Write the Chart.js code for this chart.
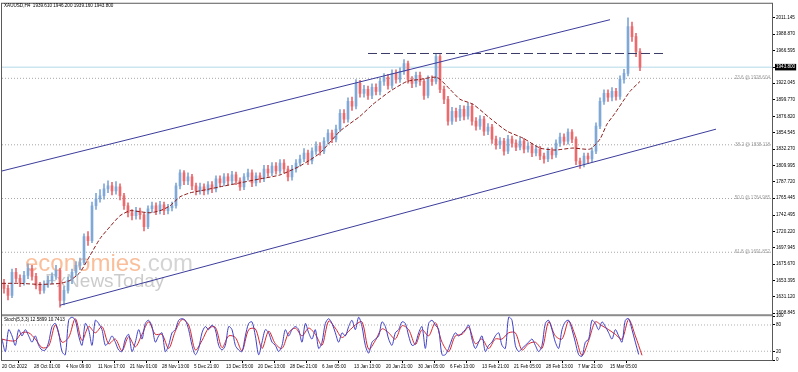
<!DOCTYPE html>
<html>
<head>
<meta charset="utf-8">
<script src="https://cdn.jsdelivr.net/npm/chart.js@4.4.0/dist/chart.umd.min.js"></script>
<style>
  html, body { margin: 0; padding: 0; background: #fff; }
  #wrap { width: 798px; height: 372px; }
</style>
</head>
<body>
<div id="wrap"><canvas id="chart" width="798" height="372"></canvas></div>
<script>
// XAUUSD H4 met kanaal, MA en Stochastic
const symbolTitle = "XAUUSD,H4  1939.610 1946.200 1939.160 1943.800";
const stochTitle = "Stoch(5,3,3) 12.5899 10.7413";

// candles: één candle per 4 H4-bars op de tijdas
const candleStep = 4;
const firstOpen = 1650.0;
const closes = [
  1642.7, 1633.2, 1664.4, 1656.2, 1650.8, 1660.3, 1669.8, 1659.0, 1646.8, 1640.0,
  1648.1, 1653.5, 1659.0, 1667.1, 1626.4, 1640.0, 1653.5, 1664.4, 1673.9, 1677.9,
  1713.1, 1707.7, 1755.1, 1764.6, 1768.7, 1778.2, 1782.2, 1775.4, 1780.9, 1768.7,
  1755.1, 1745.6, 1741.6, 1748.4, 1742.9, 1726.7, 1751.1, 1755.1, 1748.4, 1756.5,
  1748.4, 1752.4, 1755.1, 1782.2, 1799.8, 1789.0, 1794.4, 1782.2, 1775.4, 1780.9,
  1775.4, 1783.6, 1778.2, 1791.7, 1786.3, 1794.4, 1789.0, 1797.1, 1789.0, 1780.9,
  1794.4, 1799.8, 1786.3, 1795.8, 1791.7, 1805.2, 1799.8, 1809.3, 1802.5, 1813.4,
  1805.2, 1794.4, 1805.2, 1813.4, 1818.8, 1826.9, 1816.1, 1829.6, 1836.4, 1829.6,
  1843.2, 1854.0, 1845.9, 1859.4, 1881.1, 1873.0, 1897.3, 1890.6, 1921.7, 1908.2,
  1913.6, 1905.5, 1916.3, 1910.9, 1924.4, 1929.9, 1919.0, 1935.3, 1927.1, 1938.0,
  1948.8, 1927.1, 1921.7, 1932.6, 1924.4, 1905.5, 1927.1, 1924.4, 1958.3, 1913.6,
  1900.1, 1870.3, 1883.8, 1875.7, 1886.5, 1877.0, 1890.6, 1870.3, 1863.5, 1873.0,
  1856.7, 1862.1, 1845.9, 1837.8, 1843.2, 1829.6, 1845.9, 1840.5, 1835.0, 1843.2,
  1832.3, 1836.4, 1826.9, 1832.3, 1822.9, 1818.8, 1829.6, 1824.2, 1840.5, 1848.6,
  1843.2, 1855.4, 1845.9, 1816.1, 1812.0, 1822.9, 1818.8, 1829.6, 1863.5, 1897.3,
  1908.2, 1902.8, 1910.9, 1904.1, 1927.1, 1935.3, 1998.9, 1985.4, 1965.1, 1943.8
];
const highs = [
  1655, 1647, 1669, 1670, 1661, 1666, 1676, 1674, 1663, 1651,
  1653, 1659, 1664, 1674, 1670, 1645, 1658, 1669, 1679, 1684,
  1717, 1720, 1760, 1772, 1777, 1785, 1789, 1787, 1788, 1785,
  1772, 1759, 1750, 1753, 1752, 1746, 1755, 1760, 1759, 1761,
  1760, 1757, 1760, 1786, 1804, 1803, 1800, 1798, 1786, 1786,
  1785, 1788, 1788, 1796, 1796, 1799, 1799, 1802, 1801, 1793,
  1799, 1805, 1804, 1800, 1800, 1810, 1810, 1814, 1814, 1818,
  1818, 1809, 1810, 1818, 1824, 1833, 1831, 1834, 1842, 1841,
  1848, 1859, 1858, 1865, 1886, 1886, 1902, 1903, 1927, 1926,
  1919, 1918, 1921, 1921, 1929, 1935, 1934, 1940, 1940, 1943,
  1954, 1952, 1931, 1937, 1937, 1928, 1932, 1932, 1962, 1961,
  1918, 1904, 1889, 1888, 1892, 1891, 1895, 1894, 1875, 1878,
  1877, 1867, 1866, 1850, 1848, 1847, 1851, 1850, 1845, 1848,
  1847, 1841, 1840, 1837, 1836, 1827, 1834, 1834, 1845, 1854,
  1853, 1860, 1859, 1849, 1820, 1827, 1827, 1834, 1868, 1902,
  1913, 1913, 1916, 1915, 1932, 1941, 2011, 2005, 1990, 1969
];
const lows = [
  1636, 1627, 1630, 1651, 1645, 1647, 1656, 1654, 1642, 1635,
  1636, 1644, 1649, 1655, 1617, 1620, 1636, 1649, 1660, 1668,
  1675, 1701, 1705, 1750, 1760, 1764, 1773, 1770, 1771, 1763,
  1750, 1740, 1736, 1737, 1737, 1721, 1724, 1746, 1743, 1744,
  1743, 1744, 1748, 1752, 1778, 1784, 1784, 1777, 1770, 1771,
  1770, 1771, 1773, 1774, 1781, 1782, 1784, 1785, 1784, 1776,
  1777, 1790, 1781, 1782, 1787, 1788, 1795, 1796, 1798, 1799,
  1800, 1789, 1790, 1801, 1809, 1815, 1811, 1812, 1825, 1824,
  1826, 1839, 1841, 1842, 1856, 1868, 1869, 1885, 1887, 1903,
  1903, 1900, 1901, 1906, 1906, 1919, 1914, 1915, 1922, 1923,
  1934, 1922, 1916, 1917, 1919, 1900, 1902, 1919, 1921, 1909,
  1894, 1865, 1866, 1870, 1871, 1872, 1873, 1865, 1858, 1859,
  1851, 1852, 1840, 1832, 1833, 1824, 1826, 1835, 1830, 1831,
  1827, 1828, 1822, 1823, 1818, 1813, 1815, 1819, 1821, 1836,
  1838, 1839, 1841, 1811, 1806, 1808, 1813, 1815, 1826, 1860,
  1893, 1897, 1898, 1899, 1900, 1922, 1932, 1979, 1958, 1939
];

const maBars = [0, 18, 38, 58, 68, 78, 88, 98, 108, 118, 128, 138, 148, 158, 168, 178, 188, 198, 218, 238,
  258, 278, 298, 318, 338, 358, 371, 388, 405, 418, 435, 448, 458, 471, 488, 505, 521, 538, 553, 571,
  588, 598, 605, 613, 621, 628, 638];
const maValues = [1649.5, 1649.5, 1648.1, 1649.5, 1653.5, 1664.4, 1687.4, 1710.4, 1726.7, 1741.6,
  1748.4, 1747.0, 1745.6, 1748.4, 1755.1, 1767.3, 1772.7, 1775.4, 1780.9, 1786.3,
  1791.7, 1797.1, 1809.3, 1826.9, 1856.7, 1877.0, 1893.3, 1910.9, 1924.4, 1927.1,
  1929.9, 1913.6, 1900.1, 1893.3, 1874.3, 1856.7, 1847.2, 1833.7, 1831.0, 1833.7,
  1832.3, 1845.9, 1866.2, 1881.1, 1897.3, 1910.9, 1924.4];

// kanaal en weerstand
const upperChannelBars = [0, 608];
const upperChannel = [1802.5, 2008.4];
const lowerChannelBars = [58, 714];
const lowerChannel = [1619.7, 1859.4];
const resistanceBars = [366, 663];
const resistance = 1962.4;
const lastPrice = 1943.8;

// fibonacci
const fibLevels = ["23.6", "38.2", "50.0", "61.8"];
const fibPrices = [1928.604, 1838.118, 1764.985, 1691.852];

// as-labels
const priceTicks = [2011.145, 1988.870, 1966.595, 1943.800, 1922.045, 1899.770, 1876.820, 1854.545,
  1832.270, 1809.995, 1787.720, 1765.445, 1742.495, 1720.220, 1697.945, 1675.670, 1653.395, 1631.120, 1608.845];
const priceMin = 1604.78, priceMax = 2030.1;
const timeTicks = [0, 32, 64, 96, 128, 160, 192, 224, 256, 288, 320, 352, 384, 416, 448, 480, 512, 544, 576, 608];
const timeLabels = ["20 Oct 2022", "28 Oct 01:00", "4 Nov 09:00", "11 Nov 17:00", "21 Nov 01:00", "28 Nov 13:00",
  "5 Dec 21:00", "13 Dec 05:00", "20 Dec 13:00", "28 Dec 21:00", "6 Jan 05:00", "13 Jan 13:00", "20 Jan 21:00",
  "30 Jan 05:00", "6 Feb 13:00", "13 Feb 21:00", "21 Feb 05:00", "28 Feb 13:00", "7 Mar 21:00", "15 Mar 05:00"];
const totalBars = 770;

// stochastic
const stochTicks = [100, 80, 20, 0];
const stochLevels = [80, 20];
const stochStep = 10 / 3;
const stochK = [
  47.8, 19.3, 69.3, 55, 33.5, 69.3, 55, 69.3, 55, 40.7, 55, 33.5, 22.8, 22.8, 40.7, 76.4, 83.5, 62.1, 19.3, 12.1,
  90.7, 97.8, 90.7, 55, 33.5, 83.5, 69.3, 33.5, 90.7, 83.5, 69.3, 33.5, 40.7, 55, 40.7, 22.8, 19.3, 47.8, 58.5, 19.3,
  40.7, 69.3, 47.8, 83.5, 90.7, 76.4, 40.7, 55, 62.1, 19.3, 33.5, 62.1, 69.3, 90.7, 94.3, 90.7, 69.3, 33.5, 12.1, 26.4,
  62.1, 76.4, 69.3, 80, 69.3, 33.5, 22.8, 33.5, 76.4, 69.3, 33.5, 22.8, 19.3, 55, 83.5, 87.1, 55, 12.1, 40.7, 69.3,
  62.1, 40.7, 33.5, 19.3, 33.5, 69.3, 55, 69.3, 76.4, 69.3, 40.7, 83.5, 62.1, 47.8, 69.3, 26.4, 40.7, 83.5, 94.3, 83.5,
  62.1, 40.7, 62.1, 55, 76.4, 90.7, 69.3, 97.8, 76.4, 33.5, 15.7, 40.7, 47.8, 55, 87.1, 76.4, 47.8, 33.5, 62.1, 69.3,
  87.1, 83.5, 55, 33.5, 37.1, 62.1, 76.4, 26.4, 83.5, 90.7, 80, 69.3, 12.1, 12.1, 26.4, 47.8, 62.1, 55, 62.1, 69.3,
  80, 47.8, 26.4, 40.7, 55, 19.3, 33.5, 40.7, 55, 62.1, 33.5, 26.4, 97.8, 90.7, 33.5, 19.3, 26.4, 33.5, 40.7, 47.8,
  33.5, 19.3, 33.5, 83.5, 90.7, 69.3, 40.7, 26.4, 69.3, 87.1, 90.7, 69.3, 40.7, 12.1, 8.6, 40.7, 47.8, 90.7, 83.5, 69.3,
  87.1, 76.4, 62.1, 47.8, 69.3, 55, 40.7, 90.7, 94.3, 69.3, 40.7, 12.59
];
const stochDStep = 20 / 3;
const stochD = [
  47.8, 44.3, 44.3, 62.2, 62.2, 47.9, 28.2, 31.8, 80, 40.7, 51.4, 94.3, 44.3, 76.4, 62.1, 76.4, 37.1, 47.9, 21.1, 53.2,
  30, 58.6, 87.1, 58.6, 58.6, 26.4, 65.7, 92.5, 80, 22.8, 44.3, 72.9, 74.7, 28.2, 55, 51.4, 21.1, 69.3, 71.1, 26.4,
  65.7, 37.1, 26.4, 62.2, 72.9, 55, 72.8, 58.6, 33.6, 88.9, 72.8, 51.4, 65.7, 80, 87.1, 24.6, 44.3, 71.1, 62.1, 47.8,
  78.2, 69.3, 35.3, 69.3, 55, 85.4, 40.7, 19.3, 55, 58.6, 74.7, 37.1, 47.9, 26.4, 47.9, 47.8, 62.1, 62.1, 22.9, 37.1,
  40.7, 26.4, 87.1, 55, 47.9, 88.9, 55, 10.4, 44.3, 87.1, 78.2, 69.3, 58.6, 47.9, 92.5, 55, 10.74
];

const UP = "#80a8d6";
const DOWN = "#ea6a6e";
const FONT = "'Liberation Sans', Arial, sans-serif";

Chart.defaults.font.family = FONT;
Chart.defaults.font.size = 4.6;
Chart.defaults.color = "#000";

const opens = closes.map((c, i) => (i ? closes[i - 1] : firstOpen));
const candleX = i => 2 + i * candleStep;
const bodies = closes.map((c, i) => ({ x: candleX(i), y: [opens[i], c] }));
const wicks = closes.map((c, i) => ({ x: candleX(i), y: [lows[i], highs[i]] }));
const candleColor = ctx => (closes[ctx.dataIndex] >= opens[ctx.dataIndex] ? UP : DOWN);
const hline = (bars, value) => bars.map(b => ({ x: b, y: value }));
const seg = (bars, vals) => bars.map((b, i) => ({ x: b, y: vals[i] }));

function lineDs(data, color, extra) {
  return Object.assign({
    type: "line", data, borderColor: color, borderWidth: 1, pointRadius: 0,
    fill: false, tension: 0, yAxisID: "y"
  }, extra || {});
}

const datasets = [
  {
    type: "bar", data: wicks, yAxisID: "y", barThickness: 1, grouped: false,
    backgroundColor: candleColor, borderWidth: 0, order: 6
  },
  {
    type: "bar", data: bodies, yAxisID: "y", barThickness: 2, grouped: false, minBarLength: 1,
    backgroundColor: candleColor, borderWidth: 0, order: 5
  },
  lineDs(seg(maBars, maValues), "#8b1c1c", { borderDash: [4, 2], tension: 0.2, order: 3 }),
  lineDs(seg(upperChannelBars, upperChannel), "#3c3c9c", { order: 2 }),
  lineDs(seg(lowerChannelBars, lowerChannel), "#3c3c9c", { order: 2 }),
  lineDs(hline(resistanceBars, resistance), "#3a3a68", { borderDash: [9, 4], order: 2 }),
  lineDs(hline([0, totalBars], lastPrice), "#b4d8e6", { order: 7 }),
  ...fibPrices.map(p => lineDs(hline([0, totalBars], p), "#a6a6a6", { borderDash: [1, 2], order: 7 })),
  ...stochLevels.map(l => lineDs(hline([0, totalBars], l), "#b0b0b0", { borderDash: [1, 2], yAxisID: "y2", order: 7 })),
  lineDs(stochD.map((v, i) => ({ x: i * stochDStep, y: v })), "#d8262a", { yAxisID: "y2", tension: 0.3, order: 1 }),
  lineDs(stochK.map((v, i) => ({ x: i * stochStep, y: v })), "#4040c8", { yAxisID: "y2", tension: 0.3, order: 0 })
];

const overlay = {
  id: "overlay",
  beforeDatasetsDraw(chart) {
    const { ctx } = chart;
    ctx.save();
    ctx.textBaseline = "alphabetic";
    ctx.font = "24px " + FONT;
    ctx.fillStyle = "rgba(246,146,88,0.6)";
    ctx.fillText("economies", 25, 271);
    const w = ctx.measureText("economies").width;
    ctx.fillStyle = "rgba(160,160,160,0.45)";
    ctx.fillText(".com", 25 + w, 271);
    ctx.font = "19px " + FONT;
    ctx.fillStyle = "rgba(140,140,140,0.45)";
    ctx.fillText("FxNewsToday", 45, 287);
    ctx.restore();
  },
  afterDraw(chart) {
    const { ctx, chartArea: a, scales } = chart;
    ctx.save();
    ctx.font = "4.6px " + FONT;
    ctx.textBaseline = "middle";
    ctx.textAlign = "right";
    ctx.fillStyle = "#9a9a9a";
    fibPrices.forEach((p, i) => {
      ctx.fillText(fibLevels[i] + " @ " + p.toFixed(3), a.right - 2, scales.y.getPixelForValue(p) - 0.5);
    });
    // scheiding tussen de panelen
    const sep = scales.y2.top;
    ctx.fillStyle = "#8c8c8c";
    ctx.fillRect(a.left, sep - 2, a.right - a.left, 2);
    ctx.strokeStyle = "#5a5a5a";
    ctx.lineWidth = 1;
    ctx.strokeRect(a.left - 0.5, a.top - 0.5, a.right - a.left + 1, a.bottom - a.top + 1);
    ctx.fillStyle = "#000";
    ctx.textAlign = "left";
    ctx.fillText(symbolTitle, 4, 5.5);
    ctx.fillText(stochTitle, 4, sep + 3.5);
    ctx.restore();
  }
};

new Chart(document.getElementById("chart"), {
  type: "line",
  data: { datasets },
  plugins: [overlay],
  options: {
    responsive: false,
    animation: false,
    events: [],
    layout: { padding: { left: 2, top: 2, right: 0, bottom: 0 } },
    plugins: { legend: { display: false }, tooltip: { enabled: false } },
    scales: {
      x: {
        type: "linear", min: 0, max: totalBars, offset: false,
        afterBuildTicks: s => { s.ticks = timeTicks.map(v => ({ value: v })); },
        afterFit: s => { s.height = 12; },
        ticks: { callback: (v, i) => timeLabels[i], align: "start", maxRotation: 0, autoSkip: false, padding: 1 },
        grid: { drawOnChartArea: false, tickLength: 3, color: "#000" },
        border: { display: false }
      },
      y: {
        type: "linear", position: "right", stack: "panes", stackWeight: 314, min: priceMin, max: priceMax,
        afterBuildTicks: s => { s.ticks = priceTicks.map(v => ({ value: v })); },
        afterFit: s => { s.width = 26; },
        ticks: {
          autoSkip: false, padding: 1,
          callback: v => v.toFixed(3),
          color: c => (c.tick && c.tick.value === lastPrice ? "#fff" : "#000"),
          showLabelBackdrop: c => !!(c.tick && c.tick.value === lastPrice),
          backdropColor: "#000",
          backdropPadding: { left: 1, right: 1, top: 0.5, bottom: 0.5 }
        },
        grid: { drawOnChartArea: false, tickLength: 3, color: "#000" },
        border: { display: false }
      },
      y2: {
        type: "linear", position: "right", stack: "panes", stackWeight: 44, min: 0, max: 100,
        afterBuildTicks: s => { s.ticks = stochTicks.map(v => ({ value: v })); },
        afterFit: s => { s.width = 26; },
        ticks: { autoSkip: false, padding: 1, callback: v => String(v) },
        grid: { drawOnChartArea: false, tickLength: 3, color: "#000" },
        border: { display: false }
      }
    }
  }
});
</script>
</body>
</html>
